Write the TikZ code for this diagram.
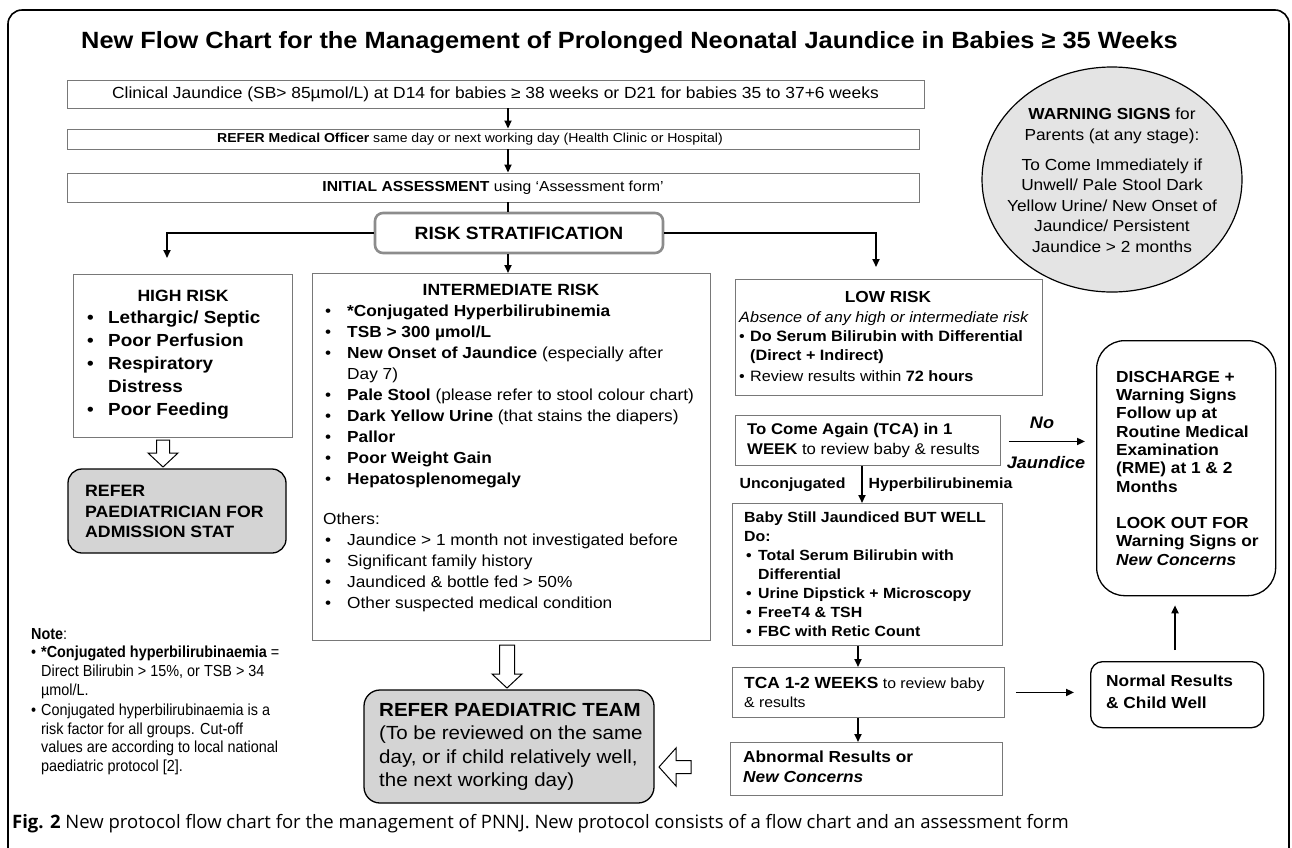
\documentclass[tikz,border=0pt]{standalone}
\usepackage{fontspec}
\setmainfont[FakeStretch=1.08]{Liberation Sans}
\newfontfamily\capfont{Open Sans}
\newfontfamily\narrowfont[FakeStretch=0.9]{Liberation Sans}
\usetikzlibrary{arrows.meta,calc,shapes.geometric}
\definecolor{boxgray}{RGB}{120,120,120}
\definecolor{fillgray}{RGB}{212,212,212}
\definecolor{circgray}{RGB}{228,228,228}
\definecolor{stratgray}{RGB}{140,140,140}
\newcommand{\fs}[2]{\fontsize{#1}{#2}\selectfont}
\newcommand{\bul}[1]{\makebox[#1][l]{\hspace{2pt}•}}
\newcommand{\sbul}[1]{\makebox[#1][l]{•}}
\newcommand{\hollowdown}[4]{% start, tip, half shaft, half head
  \draw[hol] let \p1=(#1), \p2=(#2) in
    (\x1-#3,\y1) -- (\x1+#3,\y1) -- (\x1+#3,\y2+14pt) -- (\x1+#4,\y2+14pt)
    -- (\x1,\y2) -- (\x1-#4,\y2+14pt) -- (\x1-#3,\y2+14pt) -- cycle;}
\newcommand{\hollowleft}[4]{%
  \draw[hol] let \p1=(#1), \p2=(#2) in
    (\x1,\y1+#3) -- (\x1,\y1-#3) -- (\x2+17pt,\y1-#3) -- (\x2+17pt,\y1-#4)
    -- (\x2,\y1) -- (\x2+17pt,\y1+#4) -- (\x2+17pt,\y1+#3) -- cycle;}
\begin{document}
\begin{tikzpicture}[x=1pt,y=-1pt,
  sqbox/.style={draw=boxgray,line width=0.9pt,inner sep=0pt},
  rndbox/.style={draw=black,line width=1.3pt,rounded corners=#1,inner sep=0pt},
  arr/.style={line width=1.8pt,-{Triangle[length=8pt,width=7pt]}},
  ln/.style={line width=1.8pt},
  txt/.style={inner sep=0pt,anchor=north west,align=left},
  hol/.style={draw=black,line width=1pt,fill=white,line join=miter},
]
\useasboundingbox (0,0) rectangle (1292,847);
\fill[white] (0,0) rectangle (1292,847);
% outer frame
\draw[line width=1.6pt,rounded corners=14pt] (8,880) -- (8,10) -- (1289,10) -- (1289,880);

% title
\node[font=\bfseries\fs{23.5}{27},anchor=east,inner sep=0pt] (title) at (1178,42)
  {New Flow Chart for the Management of Prolonged Neonatal Jaundice in Babies ≥ 35 Weeks};

% top boxes
\coordinate (ax) at (508,0);
\node[sqbox,minimum width=857pt,minimum height=28pt,font=\fs{16.1}{19}] (b1) at (495.5,94)
  {Clinical Jaundice (SB> 85µmol/L) at D14 for babies ≥ 38 weeks or D21 for babies 35 to 37+6 weeks};
\node[sqbox,minimum width=852pt,minimum height=20pt] (b2) at (493,139) {};
\node[font=\fs{13}{16},inner sep=0pt] (b2t) at (470,139.5)
  {\textbf{REFER Medical Officer} same day or next working day (Health Clinic or Hospital)};
\node[sqbox,minimum width=852pt,minimum height=29pt,font=\fs{14.5}{17}] (b3) at (493,187.5)
  {\textbf{INITIAL ASSESSMENT} using ‘Assessment form’};
\draw[arr] (b1.south -| ax) -- (b2.north -| ax);
\draw[arr] (b2.south -| ax) -- (b3.north -| ax);

% risk stratification
\node[draw=stratgray,line width=2.6pt,rounded corners=8pt,minimum width=288pt,minimum height=40pt,
  font=\bfseries\fs{17.8}{20}] (rs) at (519,233) {RISK STRATIFICATION};
\draw[ln] (b3.south -| ax) -- (rs.north -| ax);
\coordinate (hrin) at (167,258);
\coordinate (lrin) at (876,267);
\draw[arr] (rs.west) -| (hrin);
\draw[arr] (rs.east) -| (lrin);

% warning circle
\node[ellipse,draw=black,line width=1.2pt,fill=circgray,minimum width=260pt,minimum height=225pt] (ws) at (1112,179.5) {};
\node[inner sep=0pt,align=center,font=\fs{16}{20.6}] (wst) at ([yshift=-1pt]ws.center)
  {\textbf{WARNING SIGNS} for\\Parents (at any stage):\\[9pt]To Come Immediately if\\Unwell/ Pale Stool Dark\\Yellow Urine/ New Onset of\\Jaundice/ Persistent\\Jaundice > 2 months};

% high risk
\node[sqbox,anchor=north west,minimum width=219pt,minimum height=163pt] (hr) at (73,274) {};
\node[font=\bfseries\fs{16.3}{19}] (hrh) at (183,296) {HIGH RISK};
\node[txt,font=\bfseries\fs{17.5}{22.8}] (hrt) at (85,311)
  {\bul{23pt}Lethargic/ Septic\\\bul{23pt}Poor Perfusion\\\bul{23pt}Respiratory\\\hspace*{23pt}Distress\\\bul{23pt}Poor Feeding};
\node[rndbox=14pt,fill=fillgray,minimum width=218pt,minimum height=84pt] (rp) at (177,511) {};
\node[txt,font=\bfseries\fs{16.4}{20.7}] (rpt) at (85,485) {REFER\\PAEDIATRICIAN FOR\\ADMISSION STAT};
\coordinate (h1s) at (163,440);
\coordinate (h1e) at (163,467);
\hollowdown{h1s}{h1e}{6.5pt}{15pt}

% intermediate risk
\node[sqbox,anchor=north west,minimum width=398pt,minimum height=367pt] (im) at (312,273) {};
\draw[arr] (rs.south -| ax) -- (im.north -| ax);
\node[font=\bfseries\fs{16.2}{19}] (imh) at (511,290) {INTERMEDIATE RISK};
\node[txt,font=\fs{16}{21}] (imt) at (323,305)
  {\bul{24pt}\textbf{*Conjugated Hyperbilirubinemia}\\
   \bul{24pt}\textbf{TSB > 300 µmol/L}\\
   \bul{24pt}\textbf{New Onset of Jaundice} (especially after\\
   \hspace*{24pt}Day 7)\\
   \bul{24pt}\textbf{Pale Stool} (please refer to stool colour chart)\\
   \bul{24pt}\textbf{Dark Yellow Urine} (that stains the diapers)\\
   \bul{24pt}\textbf{Pallor}\\
   \bul{24pt}\textbf{Poor Weight Gain}\\
   \bul{24pt}\textbf{Hepatosplenomegaly}\\[19pt]
   Others:\\
   \bul{24pt}Jaundice > 1 month not investigated before\\
   \bul{24pt}Significant family history\\
   \bul{24pt}Jaundiced \& bottle fed > 50\%\\
   \bul{24pt}Other suspected medical condition};
\node[rndbox=16pt,fill=fillgray,minimum width=290pt,minimum height=113pt] (rt) at (509,746.5) {};
\node[txt,font=\fs{19}{23.5}] (rtt) at (379,703)
  {\textbf{REFER PAEDIATRIC TEAM}\\(To be reviewed on the same\\day, or if child relatively well,\\the next working day)};
\coordinate (h2s) at (507,645);
\coordinate (h2e) at (507,688);
\hollowdown{h2s}{h2e}{7.5pt}{15pt}

% note
\node[txt,font=\narrowfont\fs{16}{18.6}] (note) at (31,628)
  {\textbf{Note}:\\
   \sbul{10pt}\textbf{*Conjugated hyperbilirubinaemia} =\\
   \hspace*{10pt}Direct Bilirubin > 15\%, or TSB > 34\\
   \hspace*{10pt}µmol/L.\\[2pt]
   \sbul{10pt}Conjugated hyperbilirubinaemia is a\\
   \hspace*{10pt}risk factor for all groups. Cut-off\\
   \hspace*{10pt}values are according to local national\\
   \hspace*{10pt}paediatric protocol [2].};

% low risk
\node[sqbox,anchor=north west,minimum width=307pt,minimum height=116pt] (lr) at (735,279) {};
\node[font=\bfseries\fs{16}{19}] (lrh) at (888,297) {LOW RISK};
\node[txt,font=\fs{15}{19}] (lrt) at (739,311)
  {\textit{Absence of any high or intermediate risk}\\
   \sbul{11pt}\textbf{Do Serum Bilirubin with Differential}\\
   \hspace*{11pt}\textbf{(Direct + Indirect)}\\[2pt]
   \sbul{11pt}Review results within \textbf{72 hours}};

% TCA 1 week
\node[sqbox,anchor=north west,minimum width=265pt,minimum height=50pt] (tca) at (735,415) {};
\node[txt,font=\fs{15.5}{20}] (tcat) at (747,423)
  {\textbf{To Come Again (TCA) in 1}\\\textbf{WEEK} to review baby \& results};

% discharge
\node[rndbox=28pt,anchor=north west,minimum width=179pt,minimum height=255pt] (dc) at (1096,340) {};
\node[txt,font=\bfseries\fs{16}{18.3}] (dct) at (1116,371)
  {DISCHARGE +\\Warning Signs\\Follow up at\\Routine Medical\\Examination\\(RME) at 1 \& 2\\Months\\[18pt]LOOK OUT FOR\\Warning Signs or\\\textit{New Concerns}};
\draw[arr,shorten <=8pt,shorten >=11pt] ([yshift=-1pt]tca.east) -- ([yshift=-1pt]tca.east -| dc.west);
\node[font=\bfseries\itshape\fs{16.7}{18}] (no) at (1042,423) {No};
\node[font=\bfseries\itshape\fs{16.7}{18}] (nj) at (1046,463) {Jaundice};

% baby still jaundiced
\coordinate (ux) at (862,0);
\node[sqbox,anchor=north west,minimum width=270pt,minimum height=142pt] (bb) at (732,503) {};
\draw[arr] (tca.south -| ux) -- (bb.north -| ux);
\node[font=\bfseries\fs{14.7}{16},anchor=east] (lu) at (849,485) {Unconjugated};
\node[font=\bfseries\fs{14.7}{16},anchor=west] (lh) at (865,485) {Hyperbilirubinemia};
\node[txt,font=\bfseries\fs{14.7}{19}] (bbt) at (744,512)
  {Baby Still Jaundiced BUT WELL\\Do:\\
   \bul{14pt}Total Serum Bilirubin with\\\hspace*{14pt}Differential\\
   \bul{14pt}Urine Dipstick + Microscopy\\
   \bul{14pt}FreeT4 \& TSH\\
   \bul{14pt}FBC with Retic Count};

% TCA 1-2 weeks
\coordinate (vx) at (858,0);
\node[sqbox,anchor=north west,minimum width=272pt,minimum height=50pt] (t2) at (732,667) {};
\draw[arr] (bb.south -| vx) -- (t2.north -| vx);
\node[txt,font=\fs{14.6}{19}] (t2t) at (744,677)
  {{\bfseries\fs{16.1}{19}TCA 1-2 WEEKS} to review baby\\\& results};

% abnormal
\node[sqbox,anchor=north west,minimum width=272pt,minimum height=53pt] (ab) at (730,742) {};
\draw[arr] (t2.south -| vx) -- (ab.north -| vx);
\node[txt,font=\bfseries\fs{16}{20}] (abt) at (743,751)
  {Abnormal Results or\\\textit{New Concerns}};
\coordinate (h3s) at (691,767);
\coordinate (h3e) at (659,767);
\hollowleft{h3s}{h3e}{6.5pt}{19pt}

% normal results
\coordinate (upx) at (1175,0);
\node[rndbox=12pt,anchor=north west,minimum width=173pt,minimum height=66pt] (nr) at (1090,661) {};
\node[txt,font=\bfseries\fs{16}{22}] (nrt) at (1106,675) {Normal Results\\\& Child Well};
\draw[arr,shorten <=11pt,shorten >=16pt] (t2.east) -- (t2.east -| nr.west);
\draw[arr,shorten <=11pt,shorten >=9pt] (nr.north -| upx) -- (dc.south -| upx);

% caption
\node[anchor=west,inner sep=0pt,font=\capfont\fs{18.5}{22}] (cap) at (12,824)
  {\textbf{Fig. 2} New protocol flow chart for the management of PNNJ. New protocol consists of a flow chart and an assessment form};
\end{tikzpicture}
\end{document}
